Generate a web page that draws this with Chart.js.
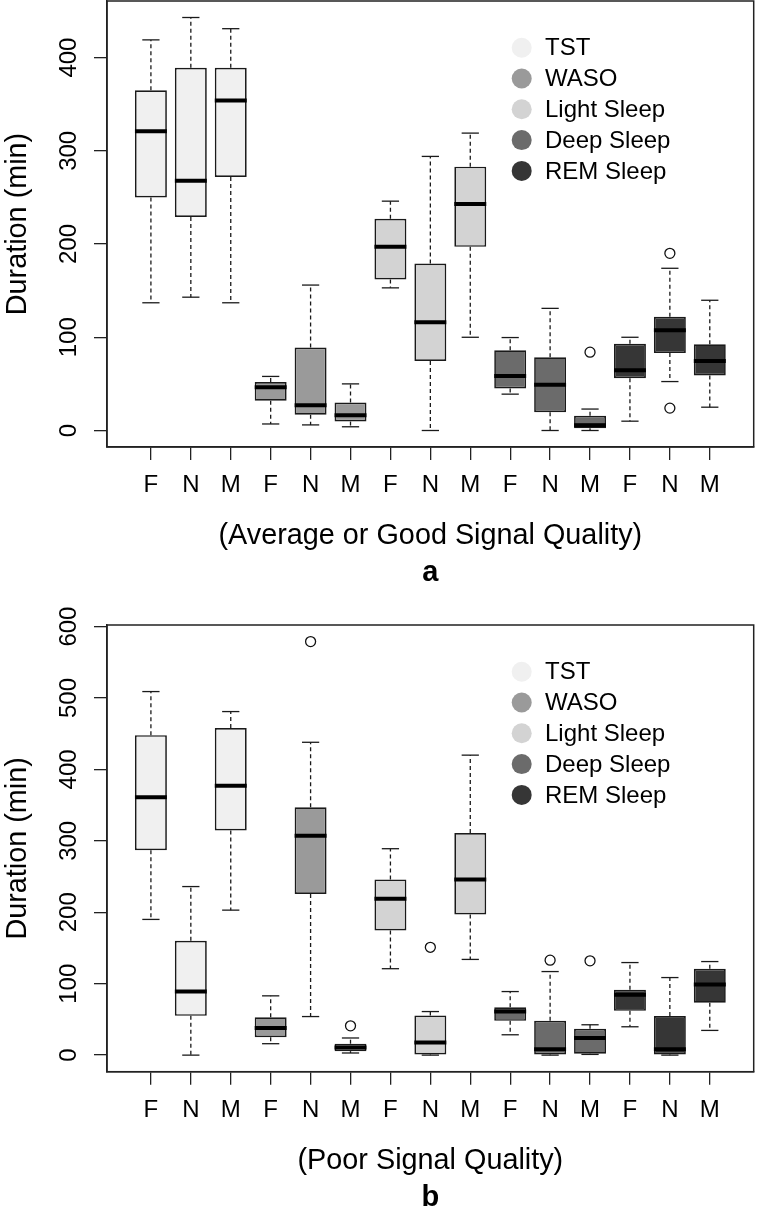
<!DOCTYPE html>
<html>
<head>
<meta charset="utf-8">
<script src="https://cdn.jsdelivr.net/npm/chart.js@4.4.0/dist/chart.umd.min.js"></script>
<style>
  body { margin: 0; background: #fff; overflow: hidden; }
  canvas { display: block; }
  #chartA { margin-top: -6px; }
</style>
</head>
<body>
<canvas id="chartA" width="760" height="606"></canvas>
<canvas id="chartB" width="760" height="622"></canvas>
<script>
const FONT = "'Liberation Sans', Arial, Helvetica, sans-serif";

const groups = ['TST', 'WASO', 'Light Sleep', 'Deep Sleep', 'REM Sleep'];
const groupColors = ['#f0f0f0', '#9a9a9a', '#d3d3d3', '#6b6b6b', '#363636'];
const positions = [1, 2, 3, 4, 5, 6, 7, 8, 9, 10, 11, 12, 13, 14, 15];
const xTickLabels = ['F', 'N', 'M', 'F', 'N', 'M', 'F', 'N', 'M', 'F', 'N', 'M', 'F', 'N', 'M'];

// (a) average or good signal quality
const lowA  = [137, 143, 137, 7, 6, 4, 153, 0, 100, 39, 0, 0, 10, 52.5, 25];
const q1A   = [250, 229, 272, 32, 17, 9.6, 162, 74.6, 197, 45, 19.6, 2.5, 56, 83, 59];
const medA  = [321, 268, 354, 46.4, 27, 16.4, 197, 116, 243, 58.5, 49, 5.7, 64.6, 107.5, 74.6];
const q3A   = [365, 389, 389, 52, 89, 30, 227, 179, 283, 86, 78.6, 15.7, 93, 122, 92.5];
const highA = [419, 443, 431, 58, 156, 50, 246, 294, 319, 99.7, 131, 23, 100, 174, 139.7];
const outX_A = [12, 14, 14];
const outY_A = [84, 190, 24];
const yTicksA = [0, 100, 200, 300, 400];

// (b) poor signal quality
const lowB  = [190, 0, 203, 16, 54, 3, 121, 0, 134, 28.5, 0, 1, 39.7, 0, 34.6];
const q1B   = [287, 55, 314.6, 25, 225.6, 5.6, 174.6, 0, 197, 48, 0, 2, 62, 0, 73.5];
const medB  = [361, 89, 377, 38, 307, 10.7, 219, 17.7, 246, 61, 8.4, 24, 84.7, 8.4, 99];
const q3B   = [448, 160, 458, 53, 347, 16, 246, 55.6, 311, 67, 48, 37, 91.7, 54.7, 121];
const highB = [509, 236, 481, 83, 438, 24, 289, 61, 420, 89, 117, 42.5, 129.6, 108.6, 131];
const outX_B = [5, 6, 8, 11, 12];
const outY_B = [579, 41, 151, 133, 132];
const yTicksB = [0, 100, 200, 300, 400, 500, 600];

function boxPlugin(low, med, high) {
  const seg = (ctx, x1, y1, x2, y2) => {
    ctx.beginPath(); ctx.moveTo(x1, y1); ctx.lineTo(x2, y2); ctx.stroke();
  };
  return {
    id: 'boxParts',
    beforeDatasetsDraw(chart) {
      const { ctx, scales: { x, y } } = chart;
      const bars = chart.getDatasetMeta(0).data;
      ctx.save();
      ctx.strokeStyle = '#1a1a1a';
      ctx.lineWidth = 1.3;
      positions.forEach((p, i) => {
        const px = x.getPixelForValue(p);
        const box = bars[i];
        const top = Math.min(box.y, box.base), bot = Math.max(box.y, box.base);
        const hi = y.getPixelForValue(high[i]), lo = y.getPixelForValue(low[i]);
        const cap = box.width * 0.27;
        ctx.setLineDash([4, 3]);
        if (hi < top) seg(ctx, px, top, px, hi);
        if (lo > bot) seg(ctx, px, bot, px, lo);
        ctx.setLineDash([]);
        seg(ctx, px - cap, hi, px + cap, hi);
        seg(ctx, px - cap, lo, px + cap, lo);
      });
      ctx.restore();
    },
    afterDatasetsDraw(chart) {
      const { ctx, scales: { x, y } } = chart;
      const bars = chart.getDatasetMeta(0).data;
      ctx.save();
      ctx.strokeStyle = '#000';
      ctx.lineWidth = 4;
      positions.forEach((p, i) => {
        const px = x.getPixelForValue(p);
        const half = bars[i].width / 2;
        const my = y.getPixelForValue(med[i]);
        seg(ctx, px - half, my, px + half, my);
      });
      ctx.restore();
    },
    afterDraw(chart) {
      const { ctx, chartArea: a } = chart;
      ctx.save();
      ctx.strokeStyle = '#222';
      ctx.lineWidth = 1.5;
      ctx.strokeRect(a.left, a.top, a.right - a.left, a.bottom - a.top);
      // legend
      ctx.font = '24px ' + FONT;
      ctx.textBaseline = 'middle';
      ctx.textAlign = 'left';
      groups.forEach((g, k) => {
        const cx = a.left + 414.7, cy = a.top + 46.7 + k * 30.8;
        ctx.fillStyle = groupColors[k];
        ctx.beginPath(); ctx.arc(cx, cy, 10, 0, Math.PI * 2); ctx.fill();
        ctx.fillStyle = '#000';
        ctx.fillText(g, cx + 23.3, cy + 1);
      });
      ctx.restore();
    }
  };
}

function makeChart(id, q1, q3, low, med, high, outX, outY, yMin, yMax, yTicks, topPad, titleBottom, xTitle, letter) {
  const axisLine = { display: true, drawOnChartArea: false, drawTicks: true, tickLength: 13, color: '#222', lineWidth: 1.3, offset: false };
  return new Chart(document.getElementById(id), {
    type: 'bar',
    data: {
      datasets: [
        {
          type: 'bar',
          data: positions.map((p, i) => ({ x: p, y: [q1[i], q3[i]] })),
          backgroundColor: positions.map((p, i) => groupColors[Math.floor(i / 3)]),
          borderColor: '#1a1a1a',
          borderWidth: 1.7,
          borderSkipped: false,
          categoryPercentage: 1,
          barPercentage: 0.8,
          grouped: false
        },
        {
          type: 'scatter',
          data: outX.map((v, i) => ({ x: v, y: outY[i] })),
          pointStyle: 'circle',
          pointRadius: 5,
          borderColor: '#111',
          borderWidth: 1.3,
          backgroundColor: 'rgba(0,0,0,0)'
        }
      ]
    },
    options: {
      responsive: false,
      animation: false,
      layout: { padding: { top: topPad, right: 2, left: 0, bottom: 0 } },
      plugins: {
        legend: { display: false },
        tooltip: { enabled: false },
        title: {
          display: true, position: 'bottom', fullSize: false, text: letter, color: '#000',
          font: { family: FONT, size: 29, weight: 'bold', lineHeight: 1 },
          padding: { top: 0, bottom: titleBottom }
        }
      },
      scales: {
        x: {
          type: 'linear', min: -0.1, max: 16.1, offset: false,
          afterBuildTicks: s => { s.ticks = positions.map(v => ({ value: v })); },
          afterFit: s => { s.height = 111.5; s.paddingLeft = 0; s.paddingRight = 0; },
          ticks: { callback: v => xTickLabels[v - 1], color: '#000', font: { family: FONT, size: 24 }, padding: 11, maxRotation: 0, autoSkip: false },
          grid: axisLine,
          border: { display: true, color: '#222', width: 1.5 },
          title: { display: true, text: xTitle, color: '#000', font: { family: FONT, size: 28.8, lineHeight: 0.7 }, padding: { top: 0, bottom: 12 } }
        },
        y: {
          min: yMin, max: yMax,
          afterBuildTicks: s => { s.ticks = yTicks.map(v => ({ value: v })); },
          afterFit: s => { s.width = 107; s.paddingTop = 0; s.paddingBottom = 0; },
          ticks: { minRotation: 90, maxRotation: 90, crossAlign: 'center', padding: 5, color: '#000', font: { family: FONT, size: 24 } },
          grid: axisLine,
          border: { display: true, color: '#222', width: 1.5 },
          title: { display: true, text: 'Duration (min)', color: '#000', font: { family: FONT, size: 28.8 }, padding: { top: 1, bottom: 0 } }
        }
      }
    },
    plugins: [boxPlugin(low, med, high)]
  });
}

makeChart('chartA', q1A, q3A, lowA, medA, highA, outX_A, outY_A, -17.7, 460.7, yTicksA, 7, 12.5,
  '(Average or Good Signal Quality)', 'a');
makeChart('chartB', q1B, q3B, lowB, medB, highB, outX_B, outY_B, -23.2, 602.2, yTicksB, 25, 9.8,
  '(Poor Signal Quality)', 'b');
</script>
</body>
</html>
